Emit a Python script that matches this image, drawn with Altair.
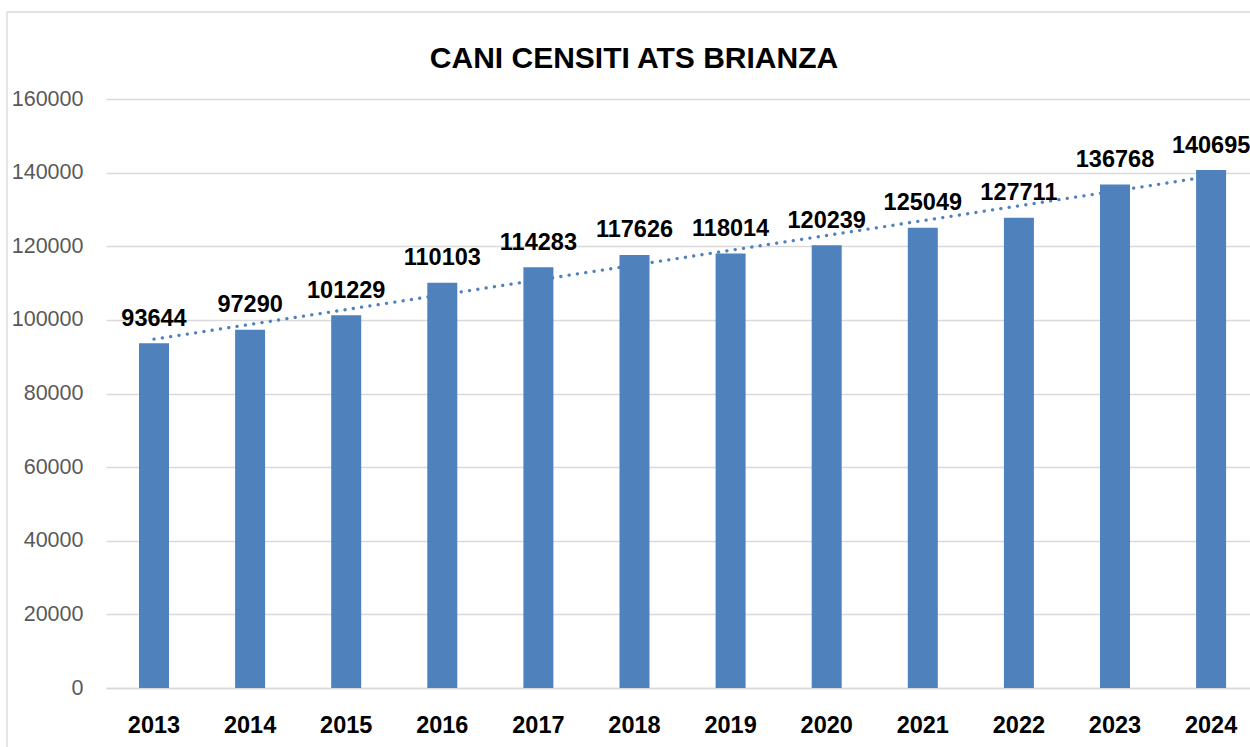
import altair as alt
import pandas as pd

years = [2013, 2014, 2015, 2016, 2017, 2018, 2019, 2020, 2021, 2022, 2023, 2024]
dogs = [93644, 97290, 101229, 110103, 114283, 117626, 118014, 120239, 125049, 127711, 136768, 140695]
title_text = "CANI CENSITI ATS BRIANZA"
y_ticks = [0, 20000, 40000, 60000, 80000, 100000, 120000, 140000, 160000]

df = pd.DataFrame({"year": years, "dogs": dogs})
tdf = pd.DataFrame({"t": [title_text]})

W, H = 1144, 589
BLUE = "#4F81BD"
FONT = "Liberation Sans"

xscale = alt.Scale(domain=years, paddingInner=0.6878, paddingOuter=0.296, align=0.58, round=False)
yscale = alt.Scale(domain=[0, 160000], nice=False, zero=True)

xenc = alt.X("year:O", scale=xscale, sort=years,
             axis=alt.Axis(title=None, labelAngle=0, ticks=False, grid=False,
                           domain=True, domainColor="#D9D9D9", domainWidth=1.3,
                           labelFont=FONT, labelFontSize=23.5, labelFontWeight="bold",
                           labelColor="#000000", labelBaseline="alphabetic",
                           labelPadding=44))
yenc = alt.Y("dogs:Q", scale=yscale,
             axis=alt.Axis(title=None, values=y_ticks, ticks=False, domain=False,
                           grid=True, gridColor="#D9D9D9", gridWidth=1.3,
                           labelFont=FONT, labelFontSize=21.5, labelColor="#595959",
                           labelPadding=23, format="d", labelBaseline="middle"))

base = alt.Chart(df)

bars = base.mark_bar(color=BLUE, size=30).encode(x=xenc, y=yenc)

labels = base.mark_text(font=FONT, fontSize=23.5, fontWeight="bold", color="#000000",
                        baseline="alphabetic", align="center", dy=-17.5).encode(
    x=alt.X("year:O", scale=xscale, sort=years),
    y=alt.Y("dogs:Q", scale=yscale),
    text=alt.Text("dogs:Q", format="d"),
)

trend = base.transform_regression("year", "dogs", method="linear").mark_line(
    color=BLUE, strokeWidth=3.3, strokeDash=[0.1, 8.3], strokeCap="round"
).encode(
    x=alt.X("year:O", scale=xscale, sort=years),
    y=alt.Y("dogs:Q", scale=yscale),
)

frame = alt.Chart(tdf).mark_rect(fill=None, stroke="#D9D9D9", strokeWidth=1.3).encode(
    x=alt.value(-99), x2=alt.value(W + 30), y=alt.value(-87), y2=alt.value(H + 80)
)

title = alt.Chart(tdf).mark_text(font=FONT, fontSize=30, fontWeight="bold", color="#000000",
                                 align="center", baseline="alphabetic").encode(
    text="t:N", x=alt.value(634 - 106), y=alt.value(67.7 - 99)
)

chart = alt.layer(frame, bars, trend, labels, title).properties(
    width=W, height=H,
    autosize=alt.AutoSizeParams(type="none"),
    padding={"left": 106, "top": 99, "right": 0, "bottom": 59},
    background="#FFFFFF",
).configure_view(stroke=None)

chart.save("out.html", embed_options={"renderer": "svg", "actions": False})
